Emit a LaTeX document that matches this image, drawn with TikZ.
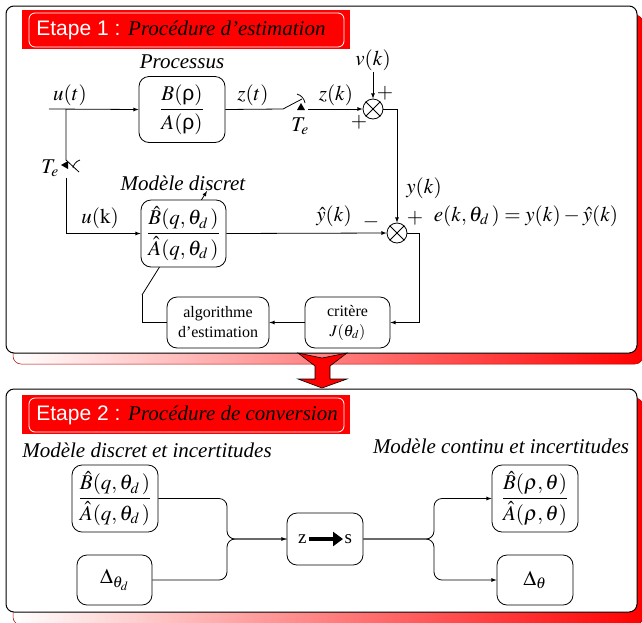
\documentclass[tikz,border=0pt]{standalone}
\usepackage{amsmath}
\usepackage{mathptmx}
\usepackage{fontspec}
\setmainfont{Liberation Serif}[ItalicFont={Liberation Serif Italic},BoldFont={Liberation Serif Bold}]
\setsansfont{Liberation Sans}
\usetikzlibrary{arrows}
\usetikzlibrary{arrows.meta}
\usetikzlibrary{shapes}

\begin{document}
\begin{tikzpicture}[x=1pt,y=-1pt,line width=0.8pt,>=latex,
  every node/.style={font=\fontsize{21}{24}\selectfont,inner sep=1pt},
  blk/.style={draw,rounded corners=10pt,fill=white,align=center,inner sep=0pt},
  small/.style={font=\fontsize{16}{20}\selectfont},
  sumnode/.style={draw,circle,fill=white,minimum size=20pt,inner sep=0pt},
  frame/.style={draw,fill=white,rounded corners=8pt,line width=1pt},
  shadow/.style={left color=white,right color=red,draw=red!70!black,line width=0.5pt,rounded corners=8pt}]
\useasboundingbox (0,0) rectangle (642,622);

% the two frames and their shadows
\shade[shadow] (13,15) rectangle (643,364);
\draw[frame] (6,6) rectangle (637,353);
\shade[shadow] (13,398) rectangle (643,625);
\draw[frame] (6,389) rectangle (637,612);

% block arrow from step 1 to step 2
\filldraw[fill=red,draw=black,line width=0.6pt] (298,353) -- (322,358) -- (347,353) -- (330,366) -- (330,379)
  -- (347,379) -- (322,388) -- (298,379) -- (315,379) -- (315,366) -- cycle;

% step titles
\foreach \y/\txt in {10/{Etape 1 : \rmfamily\itshape\color{black}Procédure d’estimation},
                     395/{Etape 2 : \rmfamily\itshape\color{black}Procédure de conversion}} {
  \fill[red] (22,\y) rectangle (350,\y+39);
  \draw[white,rounded corners=6pt] (29,\y+3) rectangle (344,\y+37);
  \node[anchor=west,inner sep=0pt] at (36,\y+20) {\sffamily\color{white}\txt};
}

%%% step 1 : estimation
% adjustable parameter arrow (goes under the model block)
\coordinate (fbt) at (142,295);
\draw[->] (fbt) -- (207,191);

\node[blk,minimum width=86pt,minimum height=66pt] (proc) at (182,109.5)
  {$\dfrac{B(\textsf{ρ})\rule[-3pt]{0pt}{3pt}}{A(\textsf{ρ})\rule{0pt}{17pt}}$};
\node (procl) at (182,62) {\itshape Processus};
\node[blk,minimum width=85pt,minimum height=67pt] (mod) at (183.5,233.5)
  {$\dfrac{\hat{B}(q,\theta_d\,)\rule[-4pt]{0pt}{4pt}}{\hat{A}(q,\theta_d\,)}$};
\node (modl) at (183,183) {\itshape Modèle discret};
\node[blk,small,minimum width=85pt,minimum height=51pt] (crit) at (347.5,322.5) {critère\\ $J(\theta_d)$};
\node[blk,small,minimum width=102pt,minimum height=51pt] (algo) at (218,322.5) {algorithme\\ d'estimation};
\node[sumnode] (s1) at (373,109) {};
\node[sumnode] (s2) at (397,233) {};
\foreach \s in {s1,s2}
  \draw (\s.north east) -- (\s.south west) (\s.north west) -- (\s.south east);

% labels
\node (ut) at (70,95) {$u(t)$};
\node (zt) at (253,95) {$z(t)$};
\node (zk) at (336,95) {$z(k)$};
\node (te2) at (300,126) {$T_e$};
\node (te1) at (50,168) {$T_e$};
\node (vk) at (373,60) {$v(k)$};
\node (p1) at (385,93) {$+$};
\node (p2) at (359,122) {$+$};
\node (uk) at (100,218) {$u(\mathrm{k})$};
\node (yh) at (334,216) {$\hat{y}(k)$};
\node (mn) at (371,222) {$-$};
\node (p3) at (415,218) {$+$};
\node (yk) at (424,188) {$y(k)$};
\node (eq) at (526,216) {$e(k,\theta_d\,)=y(k)-\hat{y}(k)$};

% input and sampled branch
\coordinate (uin) at (49,109);
\coordinate (bu) at (66,109);
\coordinate (swla) at (66,160);
\coordinate (swlb) at (66,178);
\draw[->] (uin) -- (proc.west);
\draw (bu) -- (swla) -- (79,172);
\draw (73,168) to[bend left=30] (80,160);
\fill (68,161) -- (68,169) -- (61,165) -- cycle;
\draw[->] (swlb) |- (mod.west);

% sampler on the output
\coordinate (swra) at (283,109);
\coordinate (swrb) at (308,109);
\draw (proc.east) -- (swra) -- (302,99);
\draw (297,94) to[bend left=30] (305,103);
\fill (297,110) -- (305,110) -- (301,103) -- cycle;
\draw[->] (swrb) -- (s1.west);
\draw[->] (vk.south) -- (s1.north);

% error and criterion loop
\coordinate (ce) at (419,233);
\draw[->] (s1.east) -| (s2.north);
\draw[->] (mod.east) -- (s2.west);
\draw[->] (s2.east) -- (ce) |- (crit.east);
\draw[->] (crit.west) -- (algo.east);
\draw (algo.west) -| (fbt);

%%% step 2 : conversion
\node (dl) at (147,450) {\itshape Modèle discret et incertitudes};
\node (cl) at (501,446) {\itshape Modèle continu et incertitudes};
\node[blk,minimum width=86pt,minimum height=67pt] (ba1) at (115,498.5)
  {$\dfrac{\hat{B}(q,\theta_d\,)\rule[-4pt]{0pt}{4pt}}{\hat{A}(q,\theta_d\,)}$};
\node[blk,minimum width=75pt,minimum height=50pt] (dd) at (114.5,580) {$\Delta_{\theta_d}$};
\node[blk,minimum width=76pt,minimum height=52pt,font=\fontsize{19}{22}\selectfont] (zs) at (325,539) {z\hspace{38pt}s};
\draw[line width=3.5pt,-{Triangle[length=10pt,width=14pt]}] ([xshift=-16pt]zs.center) -- ([xshift=18pt]zs.center);
\node[blk,minimum width=86pt,minimum height=67pt] (ba2) at (535,498.5)
  {$\dfrac{\hat{B}(\rho,\theta)\rule[-4pt]{0pt}{4pt}}{\hat{A}(\rho,\theta)}$};
\node[blk,minimum width=76pt,minimum height=50pt] (dc) at (535,580) {$\Delta_{\theta}$};

\coordinate (jl) at (227,539);
\coordinate (jr) at (434,539);
\draw[->,rounded corners=8pt] (ba1.east) -| (jl) -- (zs.west);
\draw[rounded corners=8pt] (dd.east) -| (jl) -- (zs.west);
\draw[->,rounded corners=8pt] (zs.east) -- (jr) |- (ba2.west);
\draw[->,rounded corners=8pt] (zs.east) -- (jr) |- (dc.west);

\end{tikzpicture}
\end{document}
